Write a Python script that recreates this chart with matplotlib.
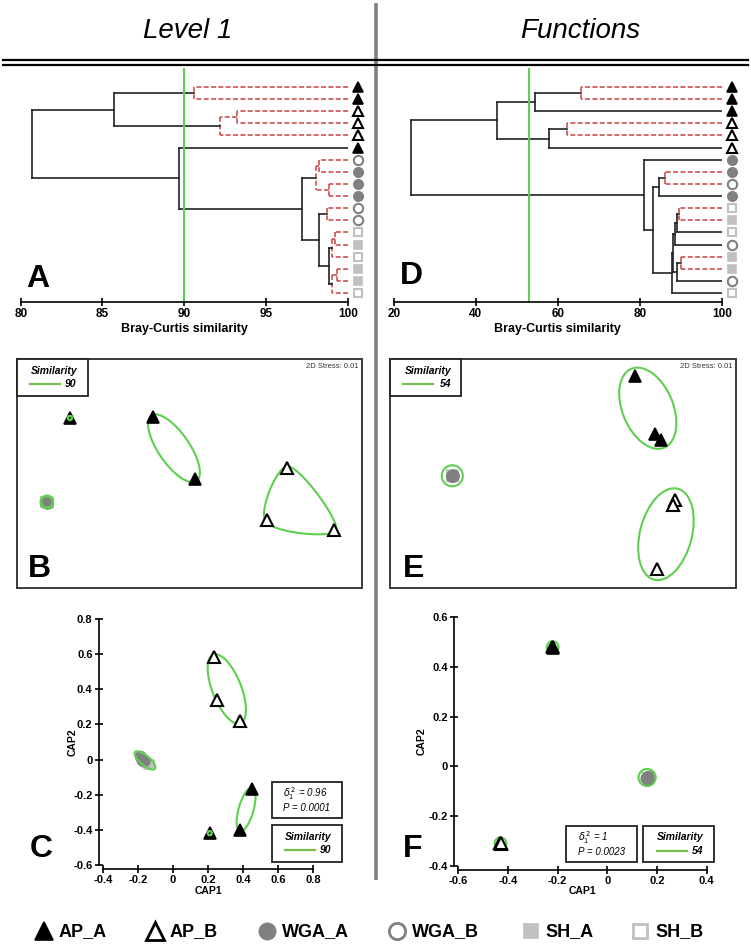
import numpy as np
import matplotlib
matplotlib.use("Agg")
import matplotlib.pyplot as plt
from matplotlib.patches import Ellipse, Rectangle

plt.rcParams['font.family'] = ['Liberation Sans', 'DejaVu Sans']

# ---------------------------------------------------------------- data
groups = ['AP_A', 'AP_B', 'WGA_A', 'WGA_B', 'SH_A', 'SH_B']

# Dendrogram A (Level 1) - leaves top to bottom
dendA_leaves = ['AP_A', 'AP_A', 'AP_B', 'AP_B', 'AP_B', 'AP_A', 'WGA_B', 'WGA_A', 'WGA_A',
                'WGA_A', 'WGA_B', 'WGA_B', 'SH_B', 'SH_A', 'SH_B', 'SH_A', 'SH_A', 'SH_B']
# merges: (child1, child2, similarity, non-significant SIMPROF)
dendA_merges = [(0, 1, 90.6, True), (2, 3, 93.2, True), (19, 4, 92.2, True), (18, 20, 85.7, False),
                (6, 7, 98.27, True), (8, 9, 98.87, True), (22, 23, 98.06, True), (10, 11, 98.75, True),
                (12, 13, 99.22, True), (26, 14, 99.06, True), (15, 16, 99.33, True), (28, 17, 99.07, True),
                (27, 29, 98.87, False), (25, 30, 98.27, False), (24, 31, 97.19, False), (5, 32, 89.7, False),
                (21, 33, 80.7, False)]
dendA_cut = 90
dendA_ticks = [80, 85, 90, 95, 100]

# Dendrogram D (Functions)
dendD_leaves = ['AP_A', 'AP_A', 'AP_A', 'AP_B', 'AP_B', 'AP_B', 'WGA_A', 'WGA_A', 'WGA_B',
                'WGA_A', 'SH_B', 'SH_A', 'SH_B', 'WGA_B', 'SH_A', 'SH_A', 'WGA_B', 'SH_B']
dendD_merges = [(0, 1, 65.6, True), (18, 2, 54.5, False), (3, 4, 62.2, True), (20, 5, 57.8, False),
                (19, 21, 45.1, False), (7, 8, 86.1, True), (23, 9, 84.7, False), (10, 11, 89.6, True),
                (25, 12, 89.0, False), (26, 13, 88.6, False), (14, 15, 90.0, True), (28, 16, 89.0, False),
                (27, 29, 88.2, False), (30, 17, 87.8, False), (24, 31, 83.3, False), (6, 32, 81.0, False),
                (22, 33, 24.2, False)]
dendD_cut = 53
dendD_ticks = [20, 40, 60, 80, 100]

sample_groups = ['AP_A'] * 3 + ['AP_B'] * 3 + ['WGA_A'] * 3 + ['WGA_B'] * 3 + ['SH_A'] * 3 + ['SH_B'] * 3

# nMDS B (Level 1)
mdsB_x = [-1.04, -0.32, 0.05, 0.85, 0.67, 1.26,
          -1.25, -1.245, -1.24, -1.245, -1.24, -1.235, -1.24, -1.235, -1.23, -1.235, -1.24, -1.245]
mdsB_y = [0.485, 0.49, -0.05, 0.05, -0.41, -0.49,
          -0.245, -0.25, -0.24, -0.25, -0.255, -0.245, -0.25, -0.245, -0.255, -0.25, -0.245, -0.25]
mdsB_cluster = [0, 1, 1, 2, 2, 2] + [3] * 12
mdsB_sim = 90
mdsB_stress = 0.01

# nMDS E (Functions)
mdsE_x = [0.62, 0.80, 0.85, 0.955, 0.97, 0.815,
          -0.965, -0.96, -0.955, -0.96, -0.965, -0.955, -0.96, -0.955, -0.965, -0.96, -0.962, -0.958]
mdsE_y = [0.85, 0.345, 0.29, -0.275, -0.23, -0.83,
          -0.02, -0.025, -0.015, -0.02, -0.018, -0.022, -0.025, -0.02, -0.015, -0.02, -0.022, -0.018]
mdsE_cluster = [0, 0, 0, 1, 1, 1] + [2] * 12
mdsE_sim = 54
mdsE_stress = 0.01

# CAP C (Level 1)
capC_x = [0.45, 0.385, 0.21, 0.235, 0.25, 0.38,
          -0.19, -0.185, -0.18, -0.175, -0.17, -0.165, -0.15, -0.145, -0.14, -0.138, -0.135, -0.13]
capC_y = [-0.17, -0.40, -0.42, 0.585, 0.34, 0.22,
          0.02, 0.012, 0.005, 0.0, -0.005, -0.01, -0.02, -0.028, -0.03, -0.032, -0.028, -0.03]
capC_cluster = [0, 0, 1, 2, 2, 2] + [3] * 12
capC_delta = 0.96
capC_p = '0.0001'
capC_xticks = [-0.4, -0.2, 0, 0.2, 0.4, 0.6, 0.8]
capC_yticks = [-0.6, -0.4, -0.2, 0, 0.2, 0.4, 0.6, 0.8]

# CAP F (Functions)
capF_x = [-0.22, -0.218, -0.222, -0.43, -0.428, -0.432,
          0.16, 0.162, 0.158, 0.16, 0.163, 0.157, 0.161, 0.159, 0.16, 0.162, 0.158, 0.16]
capF_y = [0.48, 0.478, 0.482, -0.31, -0.312, -0.308,
          -0.045, -0.04, -0.05, -0.043, -0.047, -0.045, -0.042, -0.048, -0.044, -0.046, -0.041, -0.049]
capF_cluster = [0, 0, 0, 1, 1, 1] + [2] * 12
capF_delta = 1
capF_p = '0.0023'
capF_xticks = [-0.6, -0.4, -0.2, 0, 0.2, 0.4]
capF_yticks = [-0.4, -0.2, 0, 0.2, 0.4, 0.6]

# ---------------------------------------------------------------- styles
GREEN = '#5fcf4f'
RED = '#c8413f'
STY = {
    'AP_A': dict(marker='^', mfc='black', mec='black', mew=1.2),
    'AP_B': dict(marker='^', mfc='white', mec='black', mew=1.5),
    'WGA_A': dict(marker='o', mfc='#808080', mec='#808080', mew=1.2),
    'WGA_B': dict(marker='o', mfc='white', mec='#808080', mew=1.5),
    'SH_A': dict(marker='s', mfc='#c0c0c0', mec='#c0c0c0', mew=1.2),
    'SH_B': dict(marker='s', mfc='white', mec='#c0c0c0', mew=1.5),
}
MSCALE = {'^': 1.0, 'o': 0.9, 's': 0.8}

W, H = 751, 947
fig = plt.figure(figsize=(W / 100, H / 100), dpi=100)


def rect(x0, y0, x1, y1):
    return [x0 / W, 1 - y1 / H, (x1 - x0) / W, (y1 - y0) / H]


def mk(ax, x, y, g, size, **kw):
    st = STY[g]
    ax.plot([x], [y], ls='none', marker=st['marker'], ms=size * MSCALE[st['marker']],
            mfc=st['mfc'], mec=st['mec'], mew=st['mew'], **kw)


# ---------------------------------------------------------------- dendrograms
def dendro(box, leaves, merges, cut, ticks, xlim):
    ax = fig.add_axes(rect(*box))
    n = len(leaves)
    pos = {i: (100.0, i + 1.0) for i in range(n)}
    for k, (a, b, h, ns) in enumerate(merges):
        kw = dict(color=RED, lw=1.1, ls=(0, (3.2, 1.6))) if ns else dict(color='#222222', lw=1.2)
        xa, ya = pos[a]
        xb, yb = pos[b]
        ax.plot([xa, h], [ya, ya], **kw)
        ax.plot([xb, h], [yb, yb], **kw)
        ax.plot([h, h], [ya, yb], **kw)
        pos[n + k] = (h, (ya + yb) / 2)
    trans = ax.get_yaxis_transform()
    for i, g in enumerate(leaves):
        mk(ax, 1.03, i + 1, g, 7.5, transform=trans, clip_on=False)
    ax.axvline(cut, color=GREEN, lw=1.5)
    ax.set_xlim(*xlim)
    ax.set_ylim(18.74, -0.57)
    for s in ['top', 'right', 'left']:
        ax.spines[s].set_visible(False)
    ax.spines['bottom'].set_linewidth(1.2)
    ax.patch.set_visible(False)
    ax.set_yticks([])
    ax.set_xticks(ticks)
    ax.set_xticklabels([str(t) for t in ticks], fontsize=8.5, fontweight='bold')
    ax.tick_params(axis='x', direction='inout', length=6, width=1.2, pad=1.5)
    ax.set_xlabel('Bray-Curtis similarity', fontsize=9, fontweight='bold', labelpad=2)
    return ax


dendro((20.7, 68, 347.7, 302), dendA_leaves, dendA_merges, dendA_cut, dendA_ticks, (80, 100))
dendro((394, 68, 721.7, 302), dendD_leaves, dendD_merges, dendD_cut, dendD_ticks, (20, 100))


# ---------------------------------------------------------------- cluster contours
def catmull_closed(P, n=80, alpha=0.5):
    out = []
    N = len(P)
    for i in range(N):
        p0, p1, p2, p3 = P[i - 1], P[i], P[(i + 1) % N], P[(i + 2) % N]
        t0 = 0.0
        t1 = t0 + np.linalg.norm(p1 - p0) ** alpha
        t2 = t1 + np.linalg.norm(p2 - p1) ** alpha
        t3 = t2 + np.linalg.norm(p3 - p2) ** alpha
        t = np.linspace(t1, t2, n)[:, None]
        A1 = (t1 - t) / (t1 - t0) * p0 + (t - t0) / (t1 - t0) * p1
        A2 = (t2 - t) / (t2 - t1) * p1 + (t - t1) / (t2 - t1) * p2
        A3 = (t3 - t) / (t3 - t2) * p2 + (t - t2) / (t3 - t2) * p3
        B1 = (t2 - t) / (t2 - t0) * A1 + (t - t0) / (t2 - t0) * A2
        B2 = (t3 - t) / (t3 - t1) * A2 + (t - t1) / (t3 - t1) * A3
        C = (t2 - t) / (t2 - t1) * B1 + (t - t1) / (t2 - t1) * B2
        out.append(C)
    return np.vstack(out)


def contours(ax, xs, ys, clusters, spec):
    xs = np.asarray(xs)
    ys = np.asarray(ys)
    cl = np.asarray(clusters)
    for c, sp in spec.items():
        P = np.column_stack([xs[cl == c], ys[cl == c]])
        kind = sp[0]
        if kind == 'ring':
            cx, cy = P.mean(axis=0)
            ax.scatter([cx], [cy], s=sp[1], facecolors='none', edgecolors=GREEN,
                       linewidths=sp[2], zorder=sp[3])
        elif kind == 'ellipse':
            d = np.linalg.norm(P[:, None] - P[None], axis=2)
            i, j = np.unravel_index(d.argmax(), d.shape)
            cen = (P[i] + P[j]) / 2
            v = P[j] - P[i]
            ang = np.degrees(np.arctan2(v[1], v[0]))
            ax.add_patch(Ellipse(cen, d[i, j] + 2 * sp[1], sp[2], angle=ang, fill=False,
                                 ec=GREEN, lw=1.5, zorder=sp[3] if len(sp) > 3 else 1))
        elif kind == 'smooth':
            cen = P.mean(axis=0)
            Q = cen + (P - cen) * (1 + sp[1])
            C = catmull_closed(Q)
            C = np.vstack([C, C[:1]])
            ax.plot(C[:, 0], C[:, 1], color=GREEN, lw=1.5, zorder=1)


def points(ax, xs, ys, size):
    # reverse order so that the darker groups end up on top of overlapping stacks
    for x, y, g in list(zip(xs, ys, sample_groups))[::-1]:
        mk(ax, x, y, g, size, zorder=3)


# ---------------------------------------------------------------- nMDS panels
def mds(box, xs, ys, clusters, spec):
    ax = fig.add_axes(rect(*box))
    ax.set_xlim(-1.5, 1.5)
    ax.set_ylim(-1, 1)
    ax.set_xticks([])
    ax.set_yticks([])
    for s in ax.spines.values():
        s.set_linewidth(1.4)
        s.set_color('#3a3a3a')
    points(ax, xs, ys, 8.5)
    contours(ax, xs, ys, clusters, spec)
    return ax


mds((17, 359, 362, 588), mdsB_x, mdsB_y, mdsB_cluster,
    {0: ('ring', 9, 1.6, 5), 1: ('ellipse', 0.02, 0.27), 2: ('smooth', 0.04),
     3: ('ring', 75, 2.0, 5)})
mds((390, 359, 736, 588), mdsE_x, mdsE_y, mdsE_cluster,
    {0: ('ellipse', 0.07, 0.44), 1: ('ellipse', 0.1, 0.45), 2: ('ring', 230, 1.5, 1)})


# ---------------------------------------------------------------- CAP panels
def fmt(v):
    return '0' if abs(v) < 1e-9 else ('%.1f' % v)


def cap(box, xs, ys, clusters, spec, xticks, yticks, ylab_x, xlab_y):
    ax = fig.add_axes(rect(*box))
    ax.set_xlim(xticks[0], xticks[-1])
    ax.set_ylim(yticks[0], yticks[-1])
    ax.patch.set_visible(False)
    for s in ['top', 'right']:
        ax.spines[s].set_visible(False)
    for s in ['left', 'bottom']:
        ax.spines[s].set_position(('outward', 3))
        ax.spines[s].set_linewidth(1.2)
    ax.spines['left'].set_bounds(yticks[0], yticks[-1])
    ax.spines['bottom'].set_bounds(xticks[0], xticks[-1])
    ax.set_xticks(xticks)
    ax.set_yticks(yticks)
    ax.set_xticklabels([fmt(v) for v in xticks], fontsize=8, fontweight='bold')
    ax.set_yticklabels([fmt(v) for v in yticks], fontsize=8, fontweight='bold')
    ax.tick_params(direction='inout', length=6, width=1.2, pad=1.5)
    ax.set_xlabel('CAP1', fontsize=7.5, fontweight='bold')
    ax.set_ylabel('CAP2', fontsize=7.5, fontweight='bold')
    ax.yaxis.set_label_coords(ylab_x, 0.5)
    ax.xaxis.set_label_coords(0.5, xlab_y)
    ax.xaxis.label.set_va('center')
    ax.yaxis.label.set_va('center')
    points(ax, xs, ys, 8.0)
    contours(ax, xs, ys, clusters, spec)
    return ax


cap((103, 619.3, 313, 864.7), capC_x, capC_y, capC_cluster,
    {0: ('ellipse', 0.01, 0.085), 1: ('ring', 9, 1.6, 5), 2: ('ellipse', 0.015, 0.165),
     3: ('ellipse', 0.035, 0.055, 4)}, capC_xticks, capC_yticks, -0.144, -0.106)
cap((458.3, 617.3, 706.7, 865.7), capF_x, capF_y, capF_cluster,
    {0: ('ring', 70, 1.6, 1), 1: ('ring', 70, 1.6, 1), 2: ('ring', 150, 1.6, 1)},
    capF_xticks, capF_yticks, -0.147, -0.1)

# ---------------------------------------------------------------- overlay (titles, boxes, legend)
ov = fig.add_axes([0, 0, 1, 1], zorder=10)
ov.set_xlim(0, W)
ov.set_ylim(H, 0)
ov.axis('off')
ov.patch.set_visible(False)

ov.plot([375.5, 375.5], [3, 880], color='#808080', lw=2.6, solid_capstyle='butt')
ov.plot([3, 748], [59.5, 59.5], color='black', lw=1.6)
ov.plot([3, 748], [64.5, 64.5], color='black', lw=1.6)
ov.text(188, 31, 'Level 1', fontsize=20, fontstyle='italic', ha='center', va='center')
ov.text(580, 31, 'Functions', fontsize=20, fontstyle='italic', ha='center', va='center')

for lab, x, y in [('A', 26.7, 286.7), ('D', 400, 284), ('B', 28, 577), ('E', 403.3, 577),
                  ('C', 29.3, 857), ('F', 403.3, 857)]:
    ov.text(x, y, lab, fontsize=23, fontweight='bold', ha='left', va='baseline')

for xr, st in [(358, mdsB_stress), (732, mdsE_stress)]:
    ov.text(xr, 366, '2D Stress: %.2f' % st, fontsize=5.5, color='#333333', ha='right', va='center')


def sim_box(x0, y0, x1, y1, val, tx, lx0, lx1, rx):
    ov.add_patch(Rectangle((x0, y0), x1 - x0, y1 - y0, fill=True, fc='white', ec='#222222', lw=1.3))
    h = y1 - y0
    ov.text(tx, y0 + h * 0.32, 'Similarity', fontsize=7.5, fontstyle='italic', fontweight='bold',
            ha='center', va='center')
    ov.plot([lx0, lx1], [y0 + h * 0.68, y0 + h * 0.68], color='#77c04f', lw=1.6)
    ov.text(rx, y0 + h * 0.68, str(val), fontsize=7.5, fontstyle='italic', fontweight='bold',
            ha='right', va='center')


def stat_box(x0, y0, x1, y1, d, p, tx):
    ov.add_patch(Rectangle((x0, y0), x1 - x0, y1 - y0, fill=True, fc='white', ec='#222222', lw=1.3))
    h = y1 - y0
    ov.text(tx, y0 + h * 0.32, r'$\delta_{1}^{\,2}$' + ' = %s' % d, fontsize=7, fontstyle='italic',
            ha='left', va='center')
    ov.text(tx, y0 + h * 0.72, 'P = %s' % p, fontsize=7, fontstyle='italic', ha='left', va='center')


sim_box(17, 359, 88, 396, mdsB_sim, 53.7, 30, 60, 76.7)
sim_box(390, 359, 461, 396, mdsE_sim, 427.7, 403.3, 433.3, 451)
stat_box(271.7, 781.7, 341.7, 818.3, capC_delta, capC_p, 283)
sim_box(271.7, 825, 341.7, 861.7, dendA_cut, 308, 285, 315, 331.7)
stat_box(566, 825.7, 636.7, 862.3, capF_delta, capF_p, 578)
sim_box(643.3, 825.7, 714.3, 862.3, mdsE_sim, 680, 656.7, 686.7, 703.3)

# bottom legend
leg_x = [43.5, 155, 267, 397, 530.5, 640]
for g, x in zip(groups, leg_x):
    st = STY[g]
    ov.plot([x], [931], ls='none', marker=st['marker'], ms=13 * MSCALE[st['marker']],
            mfc=st['mfc'], mec=st['mec'], mew=2.0 if st['mfc'] == 'white' else 1.2)
    ov.text(x + 15, 932, g, fontsize=13, fontweight='bold', ha='left', va='center')

fig.savefig('out.png', dpi=100)
